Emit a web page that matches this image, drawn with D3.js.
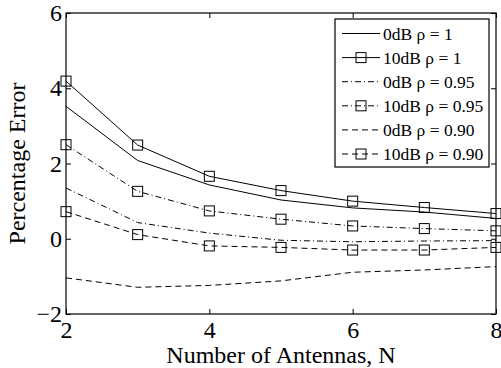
<!DOCTYPE html>
<html>
<head>
<meta charset="utf-8">
<script src="https://cdn.jsdelivr.net/npm/d3@7"></script>
<style>
  body { margin: 0; background: #fff; }
  svg text { font-family: "Liberation Serif", "Times New Roman", serif; fill: #000; }
</style>
</head>
<body>
<div id="chart"></div>
<script>
// data
const antennas = [2, 3, 4, 5, 6, 7, 8];
const snr0Rho100 = [3.52, 2.08, 1.43, 1.03, 0.82, 0.71, 0.54];
const snr10Rho100 = [4.19, 2.49, 1.66, 1.28, 1.00, 0.83, 0.67];
const snr0Rho095 = [1.35, 0.43, 0.15, -0.04, -0.08, -0.06, -0.05];
const snr10Rho095 = [2.50, 1.26, 0.74, 0.52, 0.34, 0.27, 0.21];
const snr0Rho090 = [-1.04, -1.29, -1.24, -1.12, -0.89, -0.83, -0.74];
const snr10Rho090 = [0.72, 0.11, -0.19, -0.23, -0.30, -0.30, -0.23];
const seriesNames = ["0dB \u03c1 = 1", "10dB \u03c1 = 1", "0dB \u03c1 = 0.95",
  "10dB \u03c1 = 0.95", "0dB \u03c1 = 0.90", "10dB \u03c1 = 0.90"];
const xTicks = [2, 4, 6, 8];
const yTicks = [-2, 0, 2, 4, 6];

const width = 501, height = 368;
const margin = { left: 66, right: 5, top: 13, bottom: 54 };

const series = [
  { name: seriesNames[0], values: snr0Rho100, dash: null, marker: false },
  { name: seriesNames[1], values: snr10Rho100, dash: null, marker: true },
  { name: seriesNames[2], values: snr0Rho095, dash: "6,3,1,3", marker: false },
  { name: seriesNames[3], values: snr10Rho095, dash: "6,3,1,3", marker: true },
  { name: seriesNames[4], values: snr0Rho090, dash: "6,4", marker: false },
  { name: seriesNames[5], values: snr10Rho090, dash: "6,4", marker: true }
];

const svg = d3.select("#chart").append("svg")
  .attr("width", width)
  .attr("height", height);

const x = d3.scaleLinear().domain([2, 8]).range([margin.left, width - margin.right]);
const y = d3.scaleLinear().domain([-2, 6]).range([height - margin.bottom, margin.top]);

// axes, ticks pointing inwards on all four sides
const fontAxis = 24;
svg.append("g")
  .attr("transform", `translate(0,${y(-2)})`)
  .call(d3.axisBottom(x).tickValues(xTicks).tickSizeInner(-5).tickSizeOuter(0).tickPadding(7)
    .tickFormat(d3.format("d")))
  .call(g => g.select(".domain").remove());
svg.append("g")
  .attr("transform", `translate(0,${y(6)})`)
  .call(d3.axisTop(x).tickValues(xTicks).tickSizeInner(-5).tickSizeOuter(0).tickFormat(""))
  .call(g => g.select(".domain").remove());
svg.append("g")
  .attr("transform", `translate(${x(2)},0)`)
  .call(d3.axisLeft(y).tickValues(yTicks).tickSizeInner(-5).tickSizeOuter(0).tickPadding(4)
    .tickFormat(d => d < 0 ? "\u2212" + Math.abs(d) : d))
  .call(g => g.select(".domain").remove());
svg.append("g")
  .attr("transform", `translate(${x(8)},0)`)
  .call(d3.axisRight(y).tickValues(yTicks).tickSizeInner(-5).tickSizeOuter(0).tickFormat(""))
  .call(g => g.select(".domain").remove());

svg.selectAll(".tick line").attr("stroke", "#000");
svg.selectAll(".tick text")
  .style("font-family", "'Liberation Serif', serif")
  .style("font-size", fontAxis + "px");

svg.append("rect")
  .attr("x", x(2)).attr("y", y(6))
  .attr("width", x(8) - x(2)).attr("height", y(-2) - y(6))
  .attr("fill", "none").attr("stroke", "#000").attr("stroke-width", 1.2);

// series
const line = d3.line().x((d, i) => x(antennas[i])).y(d => y(d));
const plot = svg.append("g");
const sq = 10;

series.forEach(s => {
  plot.append("path")
    .datum(s.values)
    .attr("d", line)
    .attr("fill", "none")
    .attr("stroke", "#000")
    .attr("stroke-width", 1)
    .attr("stroke-dasharray", s.dash);
  if (s.marker) {
    plot.selectAll(null)
      .data(s.values)
      .join("rect")
      .attr("x", (d, i) => x(antennas[i]) - sq / 2)
      .attr("y", d => y(d) - sq / 2)
      .attr("width", sq).attr("height", sq)
      .attr("fill", "none")
      .attr("stroke", "#000")
      .attr("stroke-width", 1);
  }
});

// axis titles
svg.append("text")
  .attr("x", (x(2) + x(8)) / 2)
  .attr("y", 363)
  .attr("text-anchor", "middle")
  .style("font-size", fontAxis + "px")
  .text("Number of Antennas, N");

svg.append("text")
  .attr("transform", `translate(25,${(y(-2) + y(6)) / 2}) rotate(-90)`)
  .attr("text-anchor", "middle")
  .style("font-size", fontAxis + "px")
  .text("Percentage Error");

// legend
const legend = svg.append("g");
const lgX = 335, lgY = 19, lgW = 154, lgH = 148;
const rowY = d3.scaleLinear().domain([0, 5]).range([lgY + 14.5, lgY + 135]);
legend.append("rect")
  .attr("x", lgX).attr("y", lgY)
  .attr("width", lgW).attr("height", lgH)
  .attr("fill", "#fff").attr("stroke", "#000").attr("stroke-width", 1.2);

series.forEach((s, i) => {
  const yy = rowY(i);
  legend.append("line")
    .attr("x1", lgX + 7).attr("x2", lgX + 45)
    .attr("y1", yy).attr("y2", yy)
    .attr("stroke", "#000").attr("stroke-width", 1)
    .attr("stroke-dasharray", s.dash);
  if (s.marker) {
    legend.append("rect")
      .attr("x", lgX + 26 - sq / 2).attr("y", yy - sq / 2)
      .attr("width", sq).attr("height", sq)
      .attr("fill", "none").attr("stroke", "#000");
  }
  legend.append("text")
    .attr("x", lgX + 48)
    .attr("y", yy + 6)
    .style("font-size", "17.5px")
    .text(s.name);
});
</script>
</body>
</html>
